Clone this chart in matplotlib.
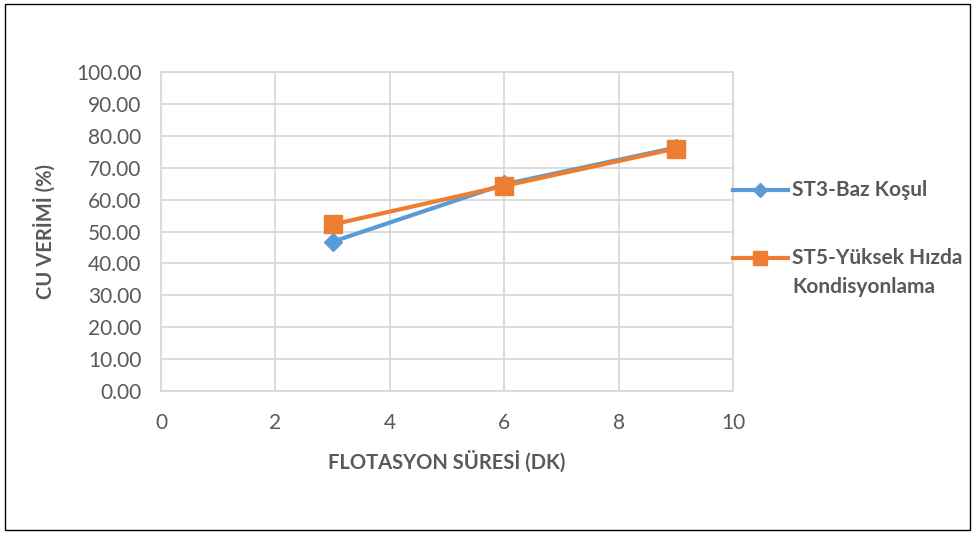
import matplotlib
matplotlib.use("Agg")
import matplotlib.pyplot as plt
from matplotlib.patches import Rectangle
from matplotlib.lines import Line2D

plt.rcParams['font.family'] = ['Lato', 'DejaVu Sans']

x_min = [3, 6, 9]
st3_baz = [46.8, 64.8, 76.3]
st5_yuksek = [52.2, 64.3, 76.0]
labels = ["ST3-Baz Koşul", "ST5-Yüksek Hızda\nKondisyonlama"]
x_ticks = [0, 2, 4, 6, 8, 10]
y_ticks = [0, 10, 20, 30, 40, 50, 60, 70, 80, 90, 100]

blue = "#5b9bd5"
orange = "#ed7d31"
grid_c = "#d9d9d9"
text_c = "#595959"

W, H = 975, 534
fig = plt.figure(figsize=(W / 100, H / 100), dpi=100)
ax = fig.add_axes([161 / W, 143 / H, (733 - 161) / W, (391 - 72) / H])

ax.plot(x_min, st3_baz, color=blue, lw=3, marker="D", ms=9, zorder=3)
ax.plot(x_min, st5_yuksek, color=orange, lw=3, marker="s", ms=12.5, zorder=4)

ax.set_xlim(0, 10)
ax.set_ylim(0, 100)
ax.set_xticks(x_ticks)
ax.set_yticks(y_ticks)
ax.set_yticklabels([f"{v:.2f}" for v in y_ticks])
ax.grid(True, color=grid_c, lw=1.3)
ax.set_axisbelow(True)
for s in ax.spines.values():
    s.set_color(grid_c)
    s.set_linewidth(1.3)
ax.tick_params(axis="both", length=0, labelsize=15, colors=text_c)
ax.tick_params(axis="y", pad=14)
ax.tick_params(axis="x", pad=16)

ax.set_xlabel("FLOTASYON SÜRESİ (DK)", fontsize=14.5, fontweight="bold", color=text_c)
ax.set_ylabel("CU VERİMİ (%)", fontsize=14.5, fontweight="bold", color=text_c)
ax.xaxis.set_label_coords(0.5, (391 - 462) / 319)
ax.xaxis.label.set_va("center")
ax.yaxis.set_label_coords((45 - 161) / 572, 0.5)
ax.yaxis.label.set_va("center")

# legend drawn at the right of the plot area
def fx(px):
    return px / W

def fy(py):
    return 1 - py / H

line_gap = 29
leg_items = [(blue, "D", 7, 190, labels[0]), (orange, "s", 9.5, 258, labels[1])]
for color, mk, ms, ypx, text in leg_items:
    fig.add_artist(Line2D([fx(733), fx(788)], [fy(ypx), fy(ypx)], color=color, lw=3,
                          transform=fig.transFigure))
    fig.add_artist(Line2D([fx(760)], [fy(ypx)], color=color, marker=mk, ms=ms,
                          transform=fig.transFigure))
    for i, part in enumerate(text.split("\n")):
        fig.text(fx(792), fy(ypx + i * line_gap), part, ha="left", va="center",
                 fontsize=15, fontweight="bold", color=text_c)

fig.add_artist(Rectangle((5 / W, 4 / H), 965 / W, 526 / H, transform=fig.transFigure,
                         fill=False, edgecolor="black", lw=1))

fig.savefig("out.png", dpi=100)
